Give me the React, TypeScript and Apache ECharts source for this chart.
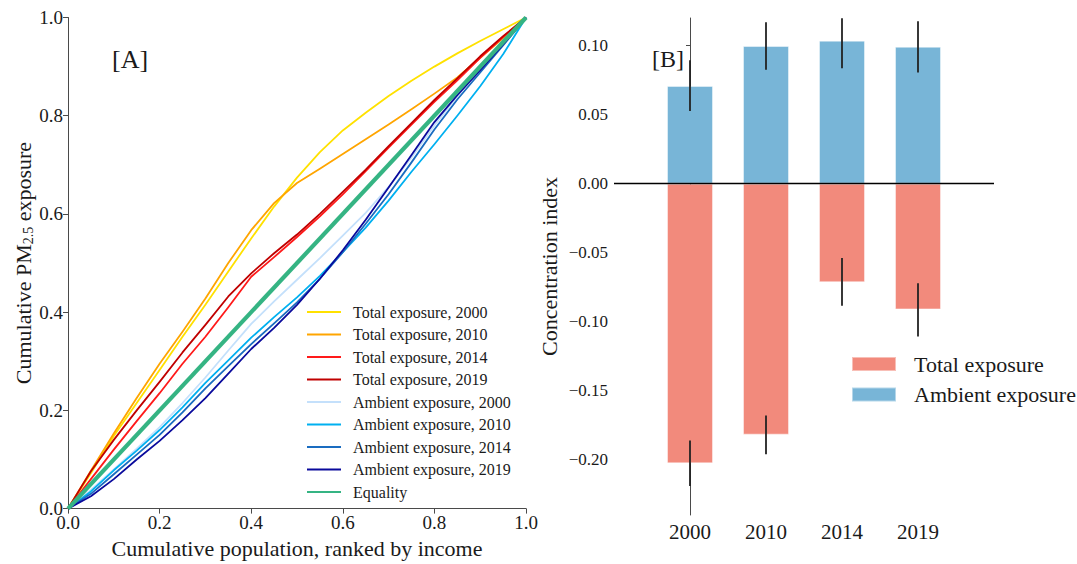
import { useEffect, useRef } from "react";
import * as echarts from "echarts";

// Panel A: cumulative share of population (ranked by income)
const popShare = [0, 0.05, 0.1, 0.15, 0.2, 0.25, 0.3, 0.35, 0.4, 0.45, 0.5, 0.55, 0.6, 0.65, 0.7, 0.75, 0.8, 0.85, 0.9, 0.95, 1];

// Cumulative PM2.5 exposure shares (concentration curves)
const total2000 = [0, 0.072, 0.148, 0.215, 0.282, 0.35, 0.415, 0.483, 0.55, 0.615, 0.674, 0.726, 0.77, 0.806, 0.84, 0.871, 0.9, 0.927, 0.952, 0.976, 1];
const total2010 = [0, 0.077, 0.153, 0.225, 0.295, 0.36, 0.428, 0.5, 0.567, 0.622, 0.663, 0.692, 0.722, 0.752, 0.782, 0.813, 0.845, 0.878, 0.918, 0.958, 1];
const total2014 = [0, 0.06, 0.12, 0.178, 0.235, 0.295, 0.35, 0.41, 0.472, 0.512, 0.553, 0.595, 0.64, 0.687, 0.735, 0.782, 0.828, 0.872, 0.918, 0.96, 1];
const total2019 = [0, 0.076, 0.14, 0.2, 0.258, 0.318, 0.374, 0.432, 0.479, 0.52, 0.558, 0.6, 0.645, 0.69, 0.738, 0.785, 0.832, 0.876, 0.921, 0.962, 1];
const ambient2000 = [0, 0.038, 0.08, 0.122, 0.166, 0.215, 0.267, 0.322, 0.376, 0.422, 0.466, 0.51, 0.556, 0.602, 0.655, 0.715, 0.78, 0.84, 0.895, 0.947, 1];
const ambient2010 = [0, 0.035, 0.078, 0.118, 0.16, 0.206, 0.256, 0.302, 0.348, 0.39, 0.43, 0.474, 0.522, 0.572, 0.627, 0.686, 0.742, 0.8, 0.86, 0.925, 1];
const ambient2014 = [0, 0.03, 0.07, 0.11, 0.15, 0.196, 0.245, 0.29, 0.335, 0.377, 0.42, 0.468, 0.522, 0.58, 0.64, 0.705, 0.772, 0.833, 0.888, 0.943, 1];
const ambient2019 = [0, 0.025, 0.06, 0.1, 0.138, 0.18, 0.225, 0.275, 0.325, 0.368, 0.415, 0.468, 0.526, 0.588, 0.654, 0.72, 0.787, 0.842, 0.893, 0.945, 1];
const equalityX = [0, 1];
const equality = [0, 1];

// Panel B: concentration index with confidence bounds
const years = ["2000", "2010", "2014", "2019"];
const totalIndex = [-0.2026, -0.1818, -0.0714, -0.0911];
const totalLow = [-0.219, -0.196, -0.0885, -0.1107];
const totalHigh = [-0.186, -0.168, -0.0539, -0.0721];
const ambientIndex = [0.0708, 0.0997, 0.1036, 0.0992];
const ambientLow = [0.0526, 0.0826, 0.0836, 0.0805];
const ambientHigh = [0.0894, 0.117, 0.1198, 0.1177];
const indexTicks = [-0.2, -0.15, -0.1, -0.05, 0, 0.05, 0.1];
const shareTicks = [0, 0.2, 0.4, 0.6, 0.8, 1];

const FONT = "Liberation Serif";
const INK = "#1a1a1a";
const AXIS = "#4a4a4a";

const curveDefs = [
  { name: "Total exposure, 2000", values: total2000, color: "#ffe100" },
  { name: "Total exposure, 2010", values: total2010, color: "#ffa500" },
  { name: "Total exposure, 2014", values: total2014, color: "#ff1a1a" },
  { name: "Total exposure, 2019", values: total2019, color: "#c00000" },
  { name: "Ambient exposure, 2000", values: ambient2000, color: "#c4e0fb" },
  { name: "Ambient exposure, 2010", values: ambient2010, color: "#00b0f0" },
  { name: "Ambient exposure, 2014", values: ambient2014, color: "#1a6cc0" },
  { name: "Ambient exposure, 2019", values: ambient2019, color: "#0a0a9c" },
];

const pairs = (xs: number[], ys: number[]) => xs.map((x, i) => [x, ys[i]]);
const fmtIndex = (v: number) => {
  const s = Math.abs(v).toFixed(2);
  return v < -1e-9 ? "\u2212" + s : s;
};

export default function App() {
  const ref = useRef<HTMLDivElement>(null);

  useEffect(() => {
    document.body.style.margin = "0";
    if (!ref.current) return;
    const chart = echarts.init(ref.current, undefined, { renderer: "svg" });

    const lineSeries: any[] = curveDefs.map((c) => ({
      type: "line",
      name: c.name,
      xAxisIndex: 0,
      yAxisIndex: 0,
      data: pairs(popShare, c.values),
      symbol: "none",
      smooth: false,
      lineStyle: { color: c.color, width: 1.8, join: "round" },
      itemStyle: { color: c.color },
    }));
    lineSeries.push({
      type: "line",
      name: "Equality",
      xAxisIndex: 0,
      yAxisIndex: 0,
      data: pairs(equalityX, equality),
      symbol: "none",
      lineStyle: { color: "#35b483", width: 4.2 },
      itemStyle: { color: "#35b483" },
      z: 5,
    });

    const errorBar = (lows: number[], highs: number[]) => ({
      type: "custom",
      xAxisIndex: 1,
      yAxisIndex: 1,
      data: lows.map((lo, i) => [i, lo, highs[i]]),
      encode: { x: 0, y: [1, 2] },
      z: 10,
      silent: true,
      renderItem: (params: any, api: any) => {
        const p1 = api.coord([api.value(0), api.value(1)]);
        const p2 = api.coord([api.value(0), api.value(2)]);
        return {
          type: "line",
          shape: { x1: p1[0], y1: p1[1], x2: p2[0], y2: p2[1] },
          style: { stroke: "#222", lineWidth: 1.8 },
        };
      },
    });

    chart.setOption({
      animation: false,
      backgroundColor: "#fff",
      textStyle: { fontFamily: FONT },
      grid: [
        { left: 68, top: 17.5, width: 458, height: 497.5 },
        { left: 614, top: 18, width: 380, height: 497 },
      ],
      xAxis: [
        {
          type: "value",
          gridIndex: 0,
          min: 0,
          max: 1,
          interval: 0.2,
          axisLine: { show: true, lineStyle: { color: AXIS, width: 1 } },
          axisTick: { show: true, length: 5, lineStyle: { color: AXIS } },
          axisLabel: {
            fontFamily: FONT,
            fontSize: 19,
            lineHeight: 14,
            color: INK,
            margin: 7,
            formatter: (v: number) => v.toFixed(1),
          },
          splitLine: { show: false },
          name: "Cumulative population, ranked by income",
          nameLocation: "middle",
          nameGap: 24,
          nameTextStyle: { fontFamily: FONT, fontSize: 22, color: INK },
        },
        {
          type: "value",
          gridIndex: 1,
          min: -1,
          max: 4,
          interval: 1,
          axisLine: { show: false },
          axisTick: { show: false },
          axisLabel: {
            fontFamily: FONT,
            fontSize: 21,
            color: INK,
            margin: 6,
            formatter: (v: number) => years[Math.round(v)] ?? "",
          },
          splitLine: { show: false },
        },
      ],
      yAxis: [
        {
          type: "value",
          gridIndex: 0,
          min: 0,
          max: 1,
          interval: 0.2,
          axisLine: { show: true, lineStyle: { color: AXIS, width: 1 } },
          axisTick: { show: true, length: 5, lineStyle: { color: AXIS } },
          axisLabel: {
            fontFamily: FONT,
            fontSize: 19,
            lineHeight: 14,
            color: INK,
            margin: 5,
            customValues: shareTicks,
            formatter: (v: number) => v.toFixed(1),
          },
          splitLine: { show: false },
          name: "{a|Cumulative PM}{s|2.5}{a| exposure}",
          nameLocation: "middle",
          nameGap: 30,
          nameTextStyle: {
            fontFamily: FONT,
            color: INK,
            rich: {
              a: { fontFamily: FONT, fontSize: 22, color: INK },
              s: { fontFamily: FONT, fontSize: 14, color: INK, padding: [10, 0, 0, 0] },
            },
          },
        },
        {
          type: "value",
          gridIndex: 1,
          min: -0.24,
          max: 0.12,
          axisLine: { show: true, lineStyle: { color: AXIS, width: 1 } },
          axisTick: { show: true, length: 4, lineStyle: { color: AXIS }, customValues: indexTicks },
          axisLabel: {
            fontFamily: FONT,
            fontSize: 17,
            color: INK,
            margin: 6,
            customValues: indexTicks,
            formatter: fmtIndex,
          },
          splitLine: { show: false },
          name: "Concentration index",
          nameLocation: "middle",
          nameGap: 54,
          nameTextStyle: { fontFamily: FONT, fontSize: 22, color: INK },
        },
      ],
      legend: [
        {
          data: [...curveDefs.map((c) => c.name), "Equality"],
          orient: "vertical",
          left: 306,
          top: 304,
          itemWidth: 34,
          itemHeight: 14,
          itemGap: 6.5,
          padding: 0,
          itemStyle: { opacity: 0 },
          textStyle: { fontFamily: FONT, fontSize: 16, lineHeight: 16, color: INK, padding: [0, 0, 0, 7] },
        },
        {
          data: ["Total exposure", "Ambient exposure"],
          orient: "vertical",
          left: 851,
          top: 353,
          icon: "rect",
          itemWidth: 44,
          itemHeight: 14,
          itemGap: 8.6,
          padding: 0,
          textStyle: { fontFamily: FONT, fontSize: 22, lineHeight: 22, color: INK, padding: [0, 0, 0, 13] },
        },
      ],
      graphic: [
        {
          type: "text",
          left: 112,
          top: 46,
          style: { text: "[A]", fontFamily: FONT, fontSize: 26, fill: INK },
        },
        {
          type: "text",
          left: 652,
          top: 47,
          style: { text: "[B]", fontFamily: FONT, fontSize: 24, fill: INK },
        },
      ],
      series: [
        ...lineSeries,
        {
          type: "bar",
          name: "Total exposure",
          xAxisIndex: 1,
          yAxisIndex: 1,
          data: totalIndex.map((v, i) => [i, v]),
          barWidth: 46,
          barGap: "-100%",
          itemStyle: { color: "#f28a7c", borderColor: "rgba(255,255,255,0.45)", borderWidth: 1 },
        },
        {
          type: "bar",
          name: "Ambient exposure",
          xAxisIndex: 1,
          yAxisIndex: 1,
          data: ambientIndex.map((v, i) => [i, v]),
          barWidth: 46,
          barGap: "-100%",
          itemStyle: { color: "#78b5d7", borderColor: "rgba(255,255,255,0.45)", borderWidth: 1 },
          markLine: {
            silent: true,
            symbol: ["none", "none"],
            label: { show: false },
            lineStyle: { color: "#000", width: 1.3, type: "solid" },
            data: [{ yAxis: 0 }],
            z: 8,
          },
        },
        errorBar(totalLow, totalHigh),
        errorBar(ambientLow, ambientHigh),
      ],
    });

    return () => chart.dispose();
  }, []);

  return <div ref={ref} style={{ width: 1077, height: 564 }} />;
}
